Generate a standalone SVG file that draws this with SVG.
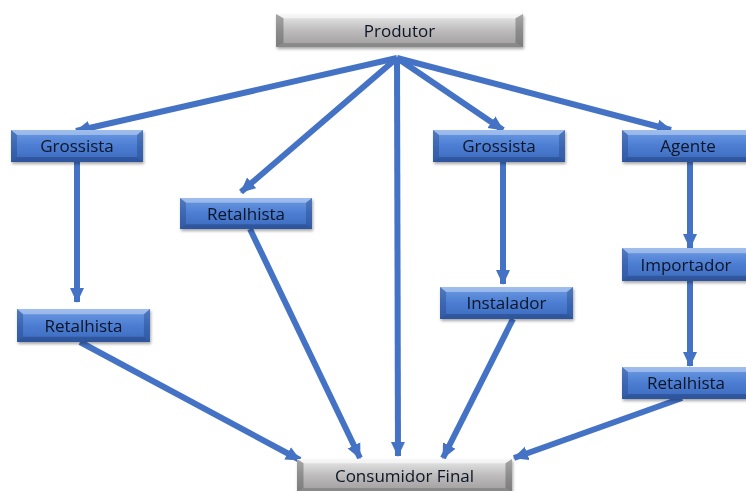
<svg xmlns="http://www.w3.org/2000/svg" xmlns:xlink="http://www.w3.org/1999/xlink" width="746" height="491" viewBox="0 0 746 491">
<defs>
<linearGradient id="gBlue" x1="0" y1="0" x2="0" y2="1">
<stop offset="0" stop-color="#6d9be3"/>
<stop offset="0.5" stop-color="#4c7dd2"/>
<stop offset="1" stop-color="#3c6abc"/>
</linearGradient>
<linearGradient id="gGray" x1="0" y1="0" x2="0" y2="1">
<stop offset="0" stop-color="#ebebeb"/>
<stop offset="0.5" stop-color="#bdbbbb"/>
<stop offset="1" stop-color="#9f9d9d"/>
</linearGradient>
<filter id="sh" x="-10%" y="-20%" width="120%" height="160%">
<feDropShadow dx="1" dy="2" stdDeviation="1.5" flood-color="#000" flood-opacity="0.35"/>
</filter>
<symbol id="boxBlue" viewBox="0 0 132 32" preserveAspectRatio="none">
<rect x="0" y="0" width="132" height="32" fill="url(#gBlue)"/>
<polygon points="0,0 132,0 126,5 6,5" fill="#ffffff" opacity="0.35"/>
<polygon points="0,0 6,5 6,27 0,32" fill="#1d3c78" opacity="0.35"/>
<polygon points="132,0 126,5 126,27 132,32" fill="#1d3c78" opacity="0.35"/>
<polygon points="0,32 6,27 126,27 132,32" fill="#1d3c78" opacity="0.45"/>
</symbol>
<symbol id="boxGray" viewBox="0 0 132 32" preserveAspectRatio="none">
<rect x="0" y="0" width="132" height="32" fill="url(#gGray)"/>
<polygon points="0,0 132,0 128,4 4,4" fill="#ffffff" opacity="0.6"/>
<polygon points="0,0 4,4 4,28 0,32" fill="#555" opacity="0.45"/>
<polygon points="132,0 128,4 128,28 132,32" fill="#555" opacity="0.45"/>
<polygon points="0,32 4,28 128,28 132,32" fill="#666" opacity="0.4"/>
</symbol>
<marker id="ah" markerUnits="userSpaceOnUse" markerWidth="16" markerHeight="16" viewBox="0 0 16 16" refX="14" refY="8" orient="auto">
<polygon points="0,1 15,8 0,15" fill="#4472c4"/>
</marker>
</defs>
<style>
.ln{stroke:#4472c4;stroke-width:6;fill:none;marker-end:url(#ah)}
.t{font-family:"Open Sans","Noto Sans",sans-serif;font-size:17px;fill:#0d1526;text-anchor:middle}
</style>
<rect width="746" height="491" fill="#ffffff"/>
<g id="connectors">
<line class="ln" x1="397" y1="58" x2="76" y2="131"/>
<line class="ln" x1="397" y1="58" x2="241" y2="192"/>
<line class="ln" x1="397" y1="58" x2="398" y2="456"/>
<line class="ln" x1="397" y1="58" x2="503" y2="130"/>
<line class="ln" x1="397" y1="58" x2="671" y2="130"/>
<line class="ln" x1="77" y1="162" x2="77" y2="302"/>
<line class="ln" x1="250" y1="229" x2="360" y2="458"/>
<line class="ln" x1="503" y1="162" x2="503" y2="284"/>
<line class="ln" x1="690" y1="162" x2="690" y2="248"/>
<line class="ln" x1="690" y1="281" x2="690" y2="366"/>
<line class="ln" x1="80" y1="342" x2="300" y2="460"/>
<line class="ln" x1="513" y1="319" x2="443" y2="458"/>
<line class="ln" x1="682" y1="398" x2="514" y2="458"/>
</g>
<g id="produtor" filter="url(#sh)">
<use xlink:href="#boxGray" x="276" y="14" width="247" height="33"/>
<text class="t" x="399.5" y="37">Produtor</text>
</g>
<g id="grossista1" filter="url(#sh)">
<use xlink:href="#boxBlue" x="11" y="130" width="132" height="32"/>
<text class="t" x="77" y="152">Grossista</text>
</g>
<g id="retalhista1" filter="url(#sh)">
<use xlink:href="#boxBlue" x="180" y="198" width="132" height="31"/>
<text class="t" x="246" y="219.5">Retalhista</text>
</g>
<g id="grossista2" filter="url(#sh)">
<use xlink:href="#boxBlue" x="433" y="130" width="132" height="32"/>
<text class="t" x="499" y="152">Grossista</text>
</g>
<g id="agente" filter="url(#sh)">
<use xlink:href="#boxBlue" x="622" y="130" width="132" height="32"/>
<text class="t" x="688" y="152">Agente</text>
</g>
<g id="retalhista2" filter="url(#sh)">
<use xlink:href="#boxBlue" x="17" y="309" width="133" height="33"/>
<text class="t" x="83.5" y="331.5">Retalhista</text>
</g>
<g id="instalador" filter="url(#sh)">
<use xlink:href="#boxBlue" x="440" y="287" width="133" height="32"/>
<text class="t" x="506.5" y="309">Instalador</text>
</g>
<g id="importador" filter="url(#sh)">
<use xlink:href="#boxBlue" x="622" y="248" width="132" height="33"/>
<text class="t" x="686" y="270.5">Importador</text>
</g>
<g id="retalhista3" filter="url(#sh)">
<use xlink:href="#boxBlue" x="622" y="367" width="132" height="32"/>
<text class="t" x="686" y="389">Retalhista</text>
</g>
<g id="consumidor" filter="url(#sh)">
<use xlink:href="#boxGray" x="297" y="459" width="215" height="33"/>
<text class="t" x="404.5" y="481.5">Consumidor Final</text>
</g>
</svg>
